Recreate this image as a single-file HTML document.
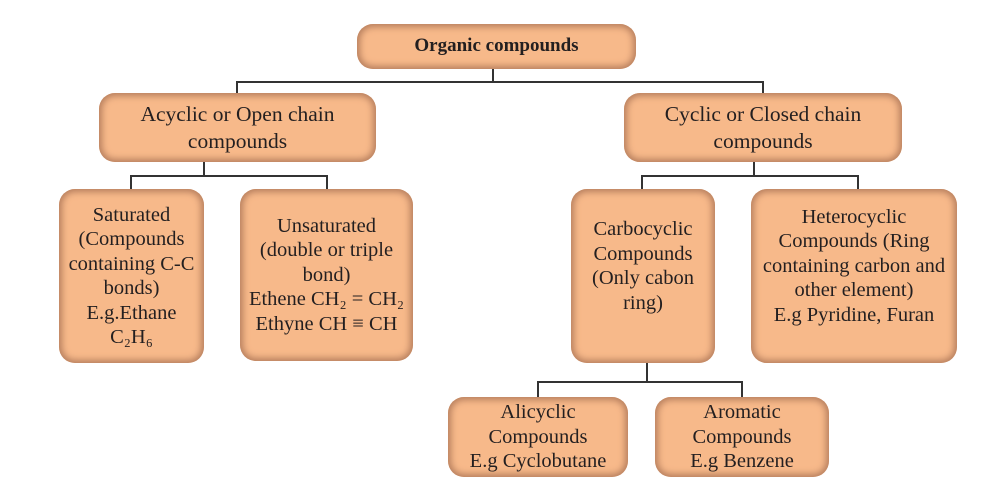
<!DOCTYPE html>
<html><head><meta charset="utf-8"><style>
body{margin:0;width:984px;height:496px;background:#fff;position:relative;overflow:hidden;font-family:"Liberation Serif",serif;}
.b{position:absolute;background:#f7b98a;border-radius:16px;box-shadow:inset 0 0 7px 3px #b77f5e;display:flex;align-items:center;justify-content:center;text-align:center;color:#231f20;font-size:20.5px;line-height:24.5px;box-sizing:border-box;white-space:nowrap;}
.l{position:absolute;background:#333;}
</style></head><body>
<div class="l" style="left:492px;top:68px;width:2px;height:14px"></div>
<div class="l" style="left:236px;top:81px;width:528px;height:2px"></div>
<div class="l" style="left:236px;top:81px;width:2px;height:14px"></div>
<div class="l" style="left:762px;top:81px;width:2px;height:14px"></div>
<div class="l" style="left:203px;top:160px;width:2px;height:16px"></div>
<div class="l" style="left:130px;top:175px;width:198px;height:2px"></div>
<div class="l" style="left:130px;top:175px;width:2px;height:26px"></div>
<div class="l" style="left:326px;top:175px;width:2px;height:26px"></div>
<div class="l" style="left:753px;top:160px;width:2px;height:16px"></div>
<div class="l" style="left:641px;top:175px;width:218px;height:2px"></div>
<div class="l" style="left:641px;top:175px;width:2px;height:16px"></div>
<div class="l" style="left:857px;top:175px;width:2px;height:16px"></div>
<div class="l" style="left:646px;top:362px;width:2px;height:20px"></div>
<div class="l" style="left:537px;top:381px;width:206px;height:2px"></div>
<div class="l" style="left:537px;top:381px;width:2px;height:17px"></div>
<div class="l" style="left:741px;top:381px;width:2px;height:17px"></div>

<div class="b" style="left:357px;top:24px;width:279px;height:45px;font-weight:bold;font-size:19px">Organic compounds</div>
<div class="b" style="left:99px;top:93px;width:277px;height:69px;font-size:21.5px;line-height:27px">Acyclic or Open chain<br>compounds</div>
<div class="b" style="left:624px;top:93px;width:278px;height:69px;font-size:21.5px;line-height:27px">Cyclic or Closed chain<br>compounds</div>
<div class="b" style="left:59px;top:189px;width:145px;height:174px">Saturated<br>(Compounds<br>containing C-C<br>bonds)<br>E.g.Ethane<br>C₂H₆</div>
<div class="b" style="left:240px;top:189px;width:173px;height:172px">Unsaturated<br>(double or triple<br>bond)<br>Ethene CH₂ = CH₂<br>Ethyne CH ≡ CH</div>
<div class="b" style="left:571px;top:189px;width:144px;height:174px;padding-bottom:20px">Carbocyclic<br>Compounds<br>(Only cabon<br>ring)</div>
<div class="b" style="left:751px;top:189px;width:206px;height:174px;padding-bottom:20px">Heterocyclic<br>Compounds (Ring<br>containing carbon and<br>other element)<br>E.g Pyridine, Furan</div>
<div class="b" style="left:448px;top:397px;width:180px;height:80px">Alicyclic<br>Compounds<br>E.g Cyclobutane</div>
<div class="b" style="left:655px;top:397px;width:174px;height:80px">Aromatic<br>Compounds<br>E.g Benzene</div>
</body></html>
